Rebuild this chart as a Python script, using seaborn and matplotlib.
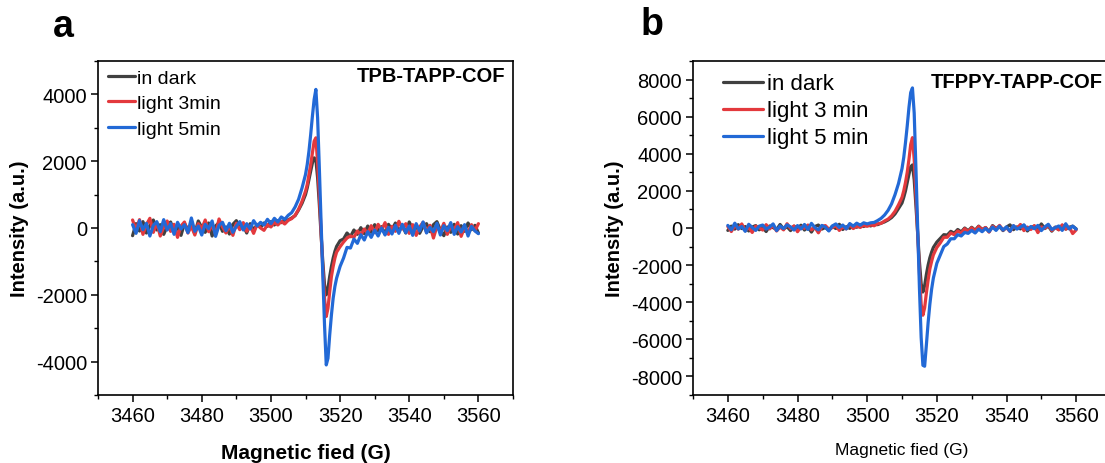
import numpy as np
import pandas as pd
import matplotlib
matplotlib.use("Agg")
import matplotlib.pyplot as plt
import seaborn as sns

sns.set_theme(style="white")
plt.rcParams['font.family'] = ['Liberation Sans', 'DejaVu Sans']
plt.rcParams['axes.unicode_minus'] = False
for k in ["text.color", "axes.labelcolor", "xtick.color", "ytick.color"]:
    plt.rcParams[k] = "black"

# ---------------- data ----------------
# magnetic field grid (G): 1 G steps on the baseline, 0.5 G steps across the line
field = np.concatenate([np.arange(3460, 3510, 1.0),
                        np.arange(3510, 3519, 0.5),
                        np.arange(3519, 3560.5, 1.0)])

conditions_a = ["in dark", "light 3min", "light 5min"]
conditions_b = ["in dark", "light 3 min", "light 5 min"]

# Panel a : TPB-TAPP-COF
a_dark = [
    -230, 130, -90, 190, -150, 70, 240, -60, 100, -190,
    50, 180, -110, 30, -220, 140, -50, 100, -160, 210,
    20, -130, 150, -240, 60, 160, -100, 30, -180, 110,
    220, -30, 80, -150, 130, -60, 100, 20, 150, 50,
    190, 90, 220, 160, 250, 240, 300, 370, 540, 740,
    1000, 1200, 1450, 1700, 1950, 2100, 2050, 1500, 700, -200,
    -1000, -1700, -2000, -1800, -1450, -1150, -900, -700,
    -550, -380, -330, -150, -260, -60, -190, 10, -170, 60,
    -130, 100, -80, 40, -180, 110, -50, 150, -100, 70,
    -150, 180, -30, 80, -160, 50, 130, -110, 100, 190,
    -60, -230, 30, -130, 110, -180, 70, -100, 150, -50, 80, -150,
]
a_light3 = [
    240, -60, 250, -190, 100, 290, -130, 160, -240, 30,
    210, -100, 110, -280, 60, 180, -150, 50, -210, 130,
    -30, 240, -110, 100, -180, 270, 30, -150, 80, -220,
    140, -50, 160, -100, 70, -160, 110, 0, -70, 100,
    30, 170, 90, 200, 120, 230, 280, 380, 560, 800,
    1100, 1300, 1600, 1900, 2250, 2600, 2700, 1950, 1000, -100,
    -1200, -2100, -2650, -2400, -1900, -1450, -1150, -900,
    -720, -560, -420, -300, -240, -280, -90, -210, -30, -170,
    70, -140, 110, -60, 160, -190, 50, -100, 200, -30,
    130, -160, 100, -220, 30, 170, -130, 80, -300, 50,
    -110, 140, -190, 60, -50, 160, -250, 20, -140, 100, -80, 130,
]
a_light5 = [
    100, -160, 220, -50, 140, -240, 80, 190, -110, 250,
    -60, 130, -190, 170, -30, 100, -140, 300, -100, 60,
    -210, 110, -20, 210, -250, 80, 170, -80, 140, -130,
    50, 190, -60, 130, -30, 220, 60, 170, 90, 260,
    130, 290, 180, 330, 260, 380, 460, 630, 860, 1200,
    1600, 1900, 2300, 2800, 3350, 3850, 4150, 3300, 1800, 200,
    -1400, -2900, -4100, -3900, -3200, -2600, -2100, -1750,
    -1500, -1150, -900, -580, -600, -330, -460, -200, -360, -110,
    -280, -60, -240, 0, -210, 20, -180, 80, -160, 110,
    -140, 60, -220, 130, -90, 180, -150, 20, -110, 140,
    -210, 70, -80, 160, -190, 40, -120, 100, -240, 50, -90, -170,
]

# Panel b : TFPPY-TAPP-COF
b_dark = [
    -130, 100, -60, 180, -30, 80, -160, 50, 130, -100,
    30, -190, 110, 20, -80, 190, -50, 70, -140, 100,
    -20, 150, -110, 50, -220, 80, 160, -60, 30, -130,
    100, -30, 200, -80, 70, -20, 130, 40, 170, 80,
    190, 110, 210, 180, 260, 330, 430, 560, 760, 1050,
    1350, 1650, 2000, 2450, 2900, 3300, 3400, 2600, 1200, -300,
    -1800, -3000, -3450, -3100, -2500, -2000, -1600, -1300,
    -1050, -760, -560, -360, -380, -180, -280, -80, -210, 0,
    -150, 40, -120, 100, -80, 20, -200, 130, -30, 80,
    -140, 50, 170, -90, 60, -50, 140, -160, 30, 100,
    -80, 220, -30, 110, -170, 50, -90, 140, -60, 30, 100, -50,
]
b_light3 = [
    80, -190, 130, -60, 220, -140, 30, -240, 100, 20,
    -110, 180, -50, 140, -160, 50, -100, 230, -30, 110,
    -200, 60, -20, 160, -100, 30, -260, 80, 130, -60,
    20, 140, -130, 60, -50, 190, -30, 100, 30, 140,
    90, 170, 120, 230, 250, 380, 480, 650, 900, 1250,
    1650, 2000, 2450, 3000, 3700, 4500, 4870, 3700, 1800, -300,
    -2400, -4100, -4700, -4300, -3500, -2800, -2200, -1800,
    -1450, -1050, -800, -500, -500, -270, -360, -160, -270, -40,
    -200, 10, -170, 80, -100, 30, -220, 100, -50, 140,
    -110, 20, -190, 110, -30, 190, -140, 50, -80, 130,
    -250, 60, -20, 160, -130, 30, -100, 170, -60, 50, -300, -100,
]
b_light5 = [
    140, -100, 260, -50, 80, -180, 200, 30, -130, 100,
    160, -60, 50, 220, -140, 110, -30, 170, 60, -110,
    130, -50, 190, -80, 250, 20, -100, 140, 50, -160,
    110, 220, 30, 160, -50, 240, 100, 260, 150, 280,
    220, 280, 300, 400, 520, 700, 950, 1300, 1800, 2400,
    3200, 3800, 4600, 5500, 6500, 7300, 7550, 6200, 3200, 0,
    -3200, -5900, -7400, -7450, -6300, -5100, -4100, -3300,
    -2700, -1900, -1450, -1000, -860, -580, -580, -360, -430, -240,
    -290, -130, -270, -60, -200, -20, -190, 50, -130, 100,
    -110, 60, -180, 130, -60, 40, 170, -90, 80, -40,
    140, -140, 60, 200, -80, 20, 110, -130, 230, -50, 100, -60,
]

colors = ["#404040", "#e3393d", "#2269d6"]


def long_df(series, names):
    frames = []
    for vals, name in zip(series, names):
        frames.append(pd.DataFrame({"field": field, "intensity": vals, "condition": name}))
    return pd.concat(frames, ignore_index=True)


df_a = long_df([a_dark, a_light3, a_light5], conditions_a)
df_b = long_df([b_dark, b_light3, b_light5], conditions_b)

# ---------------- figure ----------------
W, H = 1105, 464
fig = plt.figure(figsize=(W / 100, H / 100), dpi=100)


def ax_rect(l, r, t, b):
    return [l / W, 1 - b / H, (r - l) / W, (b - t) / H]


ax_a = fig.add_axes(ax_rect(98, 513, 62, 396))
ax_b = fig.add_axes(ax_rect(693, 1111, 62, 396))

for ax, df, names, ylim, yt in [
    (ax_a, df_a, conditions_a, (-5000, 5000), np.arange(-4000, 4001, 2000)),
    (ax_b, df_b, conditions_b, (-9000, 9000), np.arange(-8000, 8001, 2000)),
]:
    sns.lineplot(data=df, x="field", y="intensity", hue="condition",
                 hue_order=names, palette=colors, sort=False, estimator=None,
                 linewidth=2.3, ax=ax)
    ax.set_xlim(3450, 3570)
    ax.set_ylim(*ylim)
    ax.set_xticks(np.arange(3460, 3561, 20))
    ax.set_xticks(np.arange(3450, 3571, 10), minor=True)
    ax.set_yticks(yt)
    ax.set_yticks(np.arange(ylim[0], ylim[1] + 1, 1000), minor=True)
    ax.tick_params(axis="both", which="major", direction="out", length=5, width=1.1,
                   labelsize=14.5, colors="black", pad=3)
    ax.tick_params(axis="both", which="minor", direction="out", length=3, width=1.0)
    ax.tick_params(top=False, right=False, which="both")
    ax.tick_params(bottom=True, left=True, which="both")
    for s in ax.spines.values():
        s.set_color("black")
        s.set_linewidth(1.2)
    ax.set_facecolor("white")

# labels
ax_a.set_xlabel("Magnetic fied (G)", fontsize=15, fontweight="bold", labelpad=13)
ax_a.set_ylabel("Intensity (a.u.)", fontsize=14.5, fontweight="bold", labelpad=5)
ax_b.set_xlabel("Magnetic fied (G)", fontsize=12.5, fontweight="normal", labelpad=12)
ax_b.set_ylabel("Intensity (a.u.)", fontsize=14.5, fontweight="bold", labelpad=5)

# legends
ax_a.legend(loc="upper left", bbox_to_anchor=(2 / 415, 1 - 0.5 / 334), frameon=False,
            fontsize=14, handlelength=1.4, handletextpad=0.1, labelspacing=0.4,
            borderaxespad=0.0)
ax_b.legend(loc="upper left", bbox_to_anchor=(21 / 418, 1 - 3.5 / 334), frameon=False,
            fontsize=16, handlelength=1.8, handletextpad=0.2, labelspacing=0.27,
            borderaxespad=0.0)

# sample names
fig.text(505 / W, 1 - 77 / H, "TPB-TAPP-COF", ha="right", va="center",
         fontsize=14.5, fontweight="bold")
fig.text(1103 / W, 1 - 82 / H, "TFPPY-TAPP-COF", ha="right", va="center",
         fontsize=14.5, fontweight="bold")

# panel letters
fig.text(63 / W, 1 - 27 / H, "a", fontsize=27, fontweight="bold", ha="center", va="center")
fig.text(652 / W, 1 - 25 / H, "b", fontsize=27, fontweight="bold", ha="center", va="center")

fig.savefig("out.png", dpi=100, facecolor="white")
